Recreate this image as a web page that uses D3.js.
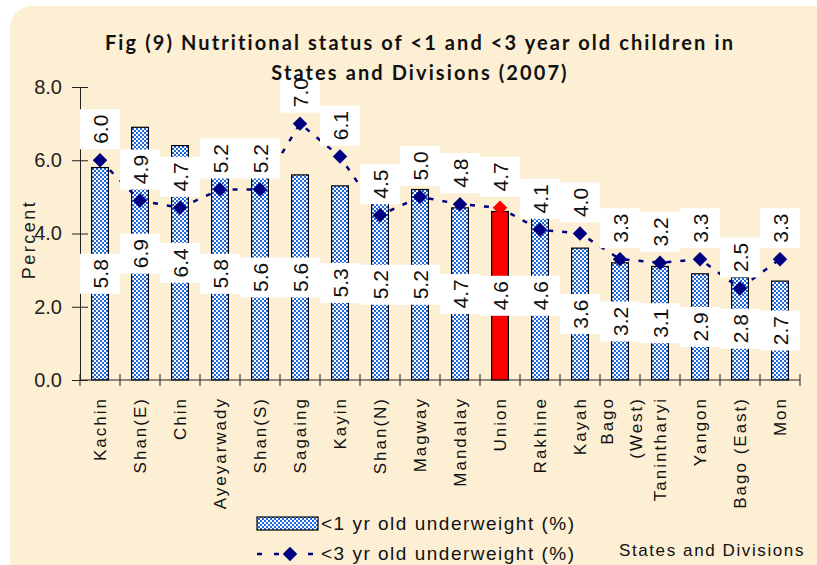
<!DOCTYPE html>
<html>
<head>
<meta charset="utf-8">
<script src="https://cdn.jsdelivr.net/npm/d3@7"></script>
<style>
  body { margin: 0; background: #fff; }
  text { font-family: "Liberation Sans", Arial, sans-serif; }
</style>
</head>
<body>
<script>
const categories = ["Kachin", "Shan(E)", "Chin", "Ayeyarwady", "Shan(S)", "Sagaing", "Kayin", "Shan(N)", "Magway",
  "Mandalay", "Union", "Rakhine", "Kayah", "Bago (West)", "Tanintharyi", "Yangon", "Bago (East)", "Mon"];
const under1 = [5.8, 6.9, 6.4, 5.8, 5.6, 5.6, 5.3, 5.2, 5.2, 4.7, 4.6, 4.6, 3.6, 3.2, 3.1, 2.9, 2.8, 2.7];
const under3 = [6.0, 4.9, 4.7, 5.2, 5.2, 7.0, 6.1, 4.5, 5.0, 4.8, 4.7, 4.1, 4.0, 3.3, 3.2, 3.3, 2.5, 3.3];
const yTicks = [0, 2, 4, 6, 8];
const highlight = "Union";

const width = 817, height = 565;
const margin = {top: 87, right: 17, bottom: 185, left: 80};

const svg = d3.select("body").append("svg")
  .attr("width", width)
  .attr("height", height);

const defs = svg.append("defs");
const pat = defs.append("pattern")
  .attr("id", "check")
  .attr("width", 4).attr("height", 4)
  .attr("patternUnits", "userSpaceOnUse");
pat.append("rect").attr("width", 4).attr("height", 4).attr("fill", "#ffffff");
pat.append("rect").attr("width", 2).attr("height", 2).attr("fill", "#1f66de");
pat.append("rect").attr("x", 2).attr("y", 2).attr("width", 2).attr("height", 2).attr("fill", "#1f66de");

// background panel
svg.append("rect")
  .attr("x", 10).attr("y", 6)
  .attr("width", width + 20).attr("height", height + 20)
  .attr("rx", 22)
  .attr("fill", "#fcefd4");

const x = d3.scaleBand()
  .domain(categories)
  .range([margin.left, width - margin.right])
  .paddingInner(0.58).paddingOuter(0.29);

const y = d3.scaleLinear()
  .domain([0, 8])
  .range([height - margin.bottom, margin.top]);

const xCenter = d => x(d) + x.bandwidth() / 2;

// y axis
const yAxis = svg.append("g")
  .attr("transform", `translate(${margin.left},0)`)
  .call(d3.axisLeft(y).tickValues(yTicks).tickFormat(d3.format(".1f")).tickSizeOuter(0).tickSize(8).tickPadding(10));
yAxis.selectAll(".tick line").attr("x2", 8).attr("x1", -8).attr("stroke", "#222");
yAxis.selectAll("text").style("font-size", "20px").attr("fill", "#222");
yAxis.select(".domain").attr("stroke", "#222");

svg.append("text")
  .attr("transform", `translate(35,${(y(0) + y(8)) / 2 + 6}) rotate(-90)`)
  .attr("text-anchor", "middle")
  .style("font-size", "18px")
  .style("letter-spacing", "2.5px")
  .attr("fill", "#222")
  .text("Percent");

// bars
svg.append("g").selectAll("rect")
  .data(categories)
  .join("rect")
  .attr("x", d => x(d))
  .attr("y", (d, i) => y(under1[i]))
  .attr("width", x.bandwidth())
  .attr("height", (d, i) => y(0) - y(under1[i]))
  .attr("fill", d => d === highlight ? "#ff0000" : "url(#check)")
  .attr("stroke", "#000")
  .attr("stroke-width", 1.2);

// x axis
const xAxisG = svg.append("g").attr("transform", `translate(0,${y(0)})`);
xAxisG.append("line")
  .attr("x1", margin.left).attr("x2", width - margin.right)
  .attr("stroke", "#222");
const step = (width - margin.right - margin.left) / categories.length;
xAxisG.selectAll(".tk")
  .data(d3.range(categories.length + 1))
  .join("line")
  .attr("x1", i => margin.left + i * step)
  .attr("x2", i => margin.left + i * step)
  .attr("y1", -6).attr("y2", 6)
  .attr("stroke", "#222");

const xlab = svg.append("g").selectAll("text")
  .data(categories)
  .join("text")
  .attr("transform", d => `translate(${xCenter(d) + 6},${y(0) + 17}) rotate(-90)`)
  .attr("text-anchor", "end")
  .style("font-size", "17px")
  .style("letter-spacing", "2px")
  .attr("fill", "#111");
xlab.each(function(d) {
  const t = d3.select(this);
  if (d === "Bago (West)") {
    t.append("tspan").attr("x", 0).attr("dy", -13).text("Bago");
    t.append("tspan").attr("x", 0).attr("dy", 29).text("(West)");
  } else {
    t.text(d);
  }
});

// line series
const line = d3.line()
  .x((d, i) => xCenter(categories[i]))
  .y(d => y(d));
svg.append("path")
  .datum(under3)
  .attr("d", line)
  .attr("fill", "none")
  .attr("stroke", "#000080")
  .attr("stroke-width", 2.5)
  .attr("stroke-dasharray", "5,9");

svg.append("g").selectAll("path")
  .data(under3)
  .join("path")
  .attr("transform", (d, i) => `translate(${xCenter(categories[i])},${y(d)}) rotate(45)`)
  .attr("d", d3.symbol().type(d3.symbolSquare).size(105))
  .attr("fill", (d, i) => categories[i] === highlight ? "#ff0000" : "#000080");

// value labels
function label(g, cx, cy, v) {
  g.append("rect")
    .attr("x", cx - 20).attr("y", cy - 20)
    .attr("width", 40).attr("height", 40)
    .attr("fill", "#fff");
  g.append("text")
    .attr("transform", `translate(${cx + 7.5},${cy}) rotate(-90)`)
    .attr("text-anchor", "middle")
    .style("font-size", "21px")
    .attr("fill", "#111")
    .text(d3.format(".1f")(v));
}
const labels = svg.append("g");
categories.forEach((c, i) => {
  label(labels, xCenter(c), (y(under1[i]) + y(0)) / 2, under1[i]);
});
categories.forEach((c, i) => {
  label(labels, xCenter(c), y(under3[i]) - 31, under3[i]);
});

// title (on top)
const title = svg.append("text")
  .attr("text-anchor", "middle")
  .style("font-family", "Lato, 'Open Sans', sans-serif")
  .style("font-weight", "bold")
  .style("font-size", "20px")
  .style("letter-spacing", "2.1px")
  .attr("fill", "#111");
title.append("tspan").attr("x", 420).attr("y", 50).text("Fig (9) Nutritional status of <1 and <3 year old children in");
title.append("tspan").attr("x", 420).attr("y", 80).text("States and Divisions (2007)");

// legend
const lg = svg.append("g");
lg.append("rect")
  .attr("x", 257).attr("y", 517).attr("width", 61).attr("height", 13)
  .attr("fill", "url(#check)").attr("stroke", "#000").attr("stroke-width", 1.2);
lg.append("text").attr("x", 321).attr("y", 530).style("font-size", "19px").style("letter-spacing", "1.5px").attr("fill", "#111")
  .text("<1 yr old underweight (%)");
lg.append("line")
  .attr("x1", 257).attr("x2", 318).attr("y1", 554).attr("y2", 554)
  .attr("stroke", "#000080").attr("stroke-width", 2.5).attr("stroke-dasharray", "5,12");
lg.append("path")
  .attr("transform", "translate(290,554) rotate(45)")
  .attr("d", d3.symbol().type(d3.symbolSquare).size(105))
  .attr("fill", "#000080");
lg.append("text").attr("x", 321).attr("y", 560).style("font-size", "19px").style("letter-spacing", "1.5px").attr("fill", "#111")
  .text("<3 yr old underweight (%)");

svg.append("text")
  .attr("x", 805).attr("y", 556)
  .attr("text-anchor", "end")
  .style("font-size", "17px")
  .style("letter-spacing", "1.6px")
  .attr("fill", "#111")
  .text("States and Divisions");
</script>
</body>
</html>
